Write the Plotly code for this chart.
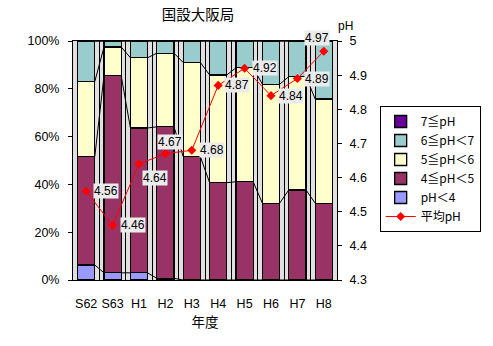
import plotly.graph_objects as go

categories = ["S62", "S63", "H1", "H2", "H3", "H4", "H5", "H6", "H7", "H8"]
ph_lt4 = [6.3, 3.0, 3.0, 0.7, 0, 0, 0, 0, 0, 0]
ph_4_5 = [45.3, 82.5, 60.6, 63.4, 51.6, 40.7, 41.1, 32.1, 37.7, 32.1]
ph_5_6 = [31.4, 12.0, 29.4, 30.8, 39.4, 45.1, 47.7, 49.8, 47.4, 43.6]
ph_6_7 = [17.0, 2.5, 7.0, 5.1, 9.0, 14.2, 11.2, 18.1, 14.9, 24.3]
ph_ge7 = [0, 0, 0, 0, 0, 0, 0, 0, 0, 0]
avg_ph = [4.56, 4.46, 4.64, 4.67, 4.68, 4.87, 4.92, 4.84, 4.89, 4.97]

series = [
    ("pH＜4", ph_lt4, "#9999FF", 5),
    ("4≦pH＜5", ph_4_5, "#993366", 4),
    ("5≦pH＜6", ph_5_6, "#FFFFCC", 3),
    ("6≦pH＜7", ph_6_7, "#99CCCC", 2),
    ("7≦pH", ph_ge7, "#660099", 1),
]

FONT = "Liberation Sans, Arial, Noto Sans CJK JP"
CJK = "Noto Sans CJK JP"
x = list(range(len(categories)))
half = 0.325

fig = go.Figure()

cum = [0.0] * len(categories)
for name, vals, color, rank in series:
    fig.add_trace(go.Bar(
        x=x, y=vals, name=name, marker=dict(color=color, line=dict(color="black", width=1.3)),
        legendrank=rank, width=0.65,
    ))
    cum = [c + v for c, v in zip(cum, vals)]
    # series lines
    lx, ly = [], []
    for i in range(len(categories) - 1):
        lx += [x[i] + half, x[i + 1] - half, None]
        ly += [cum[i], cum[i + 1], None]
    fig.add_trace(go.Scatter(x=lx, y=ly, mode="lines", line=dict(color="black", width=1),
                             showlegend=False, hoverinfo="skip"))

fig.add_trace(go.Scatter(
    x=x, y=avg_ph, name="平均pH", mode="lines+markers", yaxis="y2",
    line=dict(color="#FF0000", width=1),
    marker=dict(symbol="diamond", size=7, color="#FF0000"),
    legendrank=6,
))

offsets = [(20, 0), (20, 0), (16, 14), (5, -12), (20, 0), (19, 0), (20, 0), (20, 0), (20, 0), (-7, -13)]
for i, v in enumerate(avg_ph):
    dx, dy = offsets[i]
    fig.add_annotation(x=x[i], y=v, yref="y2", text=f"{v:.2f}", showarrow=False,
                       xshift=dx, yshift=-dy, bgcolor="#EBEBEB", borderpad=0,
                       font=dict(family=FONT, size=12, color="black"))

fig.add_annotation(x=(357 - 73) / 266, y=(280 - 17) / 239, xref="paper", yref="paper", text="pH",
                   showarrow=False, font=dict(family=FONT, size=12, color="black"))

fig.update_layout(
    width=493, height=346,
    margin=dict(l=73, r=154, t=41, b=66),
    barmode="stack", bargap=0.35,
    plot_bgcolor="#E0E0E0", paper_bgcolor="white",
    font=dict(family=FONT, size=12, color="black"),
    title=dict(text="国設大阪局", x=198 / 493, xanchor="center", y=1 - 15 / 346, yanchor="middle",
               font=dict(family=CJK, size=14.5, color="black")),
    xaxis=dict(
        range=[-0.5, len(categories) - 0.5], tickvals=x, ticktext=categories,
        showline=True, linecolor="black", linewidth=1, mirror=True, ticks="",
        showgrid=False, zeroline=False, ticklabelstandoff=12,
        minor=dict(tickvals=[i + 0.5 for i in x[:-1]], showgrid=True, gridcolor="black", gridwidth=1, ticks=""),
        title=dict(text="年度", font=dict(family=CJK, size=13.5), standoff=2),
        tickfont=dict(size=12.5),
    ),
    yaxis=dict(
        range=[0, 100], dtick=20, ticksuffix="%", showline=True, linecolor="black", linewidth=1,
        ticks="outside", ticklen=4, tickcolor="black", showgrid=False, zeroline=False,
        ticklabelstandoff=6, tickfont=dict(size=12.5),
    ),
    yaxis2=dict(
        range=[4.3, 5.0], dtick=0.1, overlaying="y", side="right", showline=True, linecolor="black",
        linewidth=1, ticks="outside", ticklen=4, tickcolor="black", showgrid=False, zeroline=False,
        tickformat=".1~f", ticklabelstandoff=5, tickfont=dict(size=12.5),
    ),
    legend=dict(
        x=(382 - 73) / 266, y=(280 - 106) / 239, xanchor="left", yanchor="top",
        bordercolor="black", borderwidth=1, bgcolor="white", traceorder="normal",
        font=dict(family=CJK, size=12), tracegroupgap=0, itemwidth=30,
    ),
    showlegend=True,
)

fig.write_html("out.html")
